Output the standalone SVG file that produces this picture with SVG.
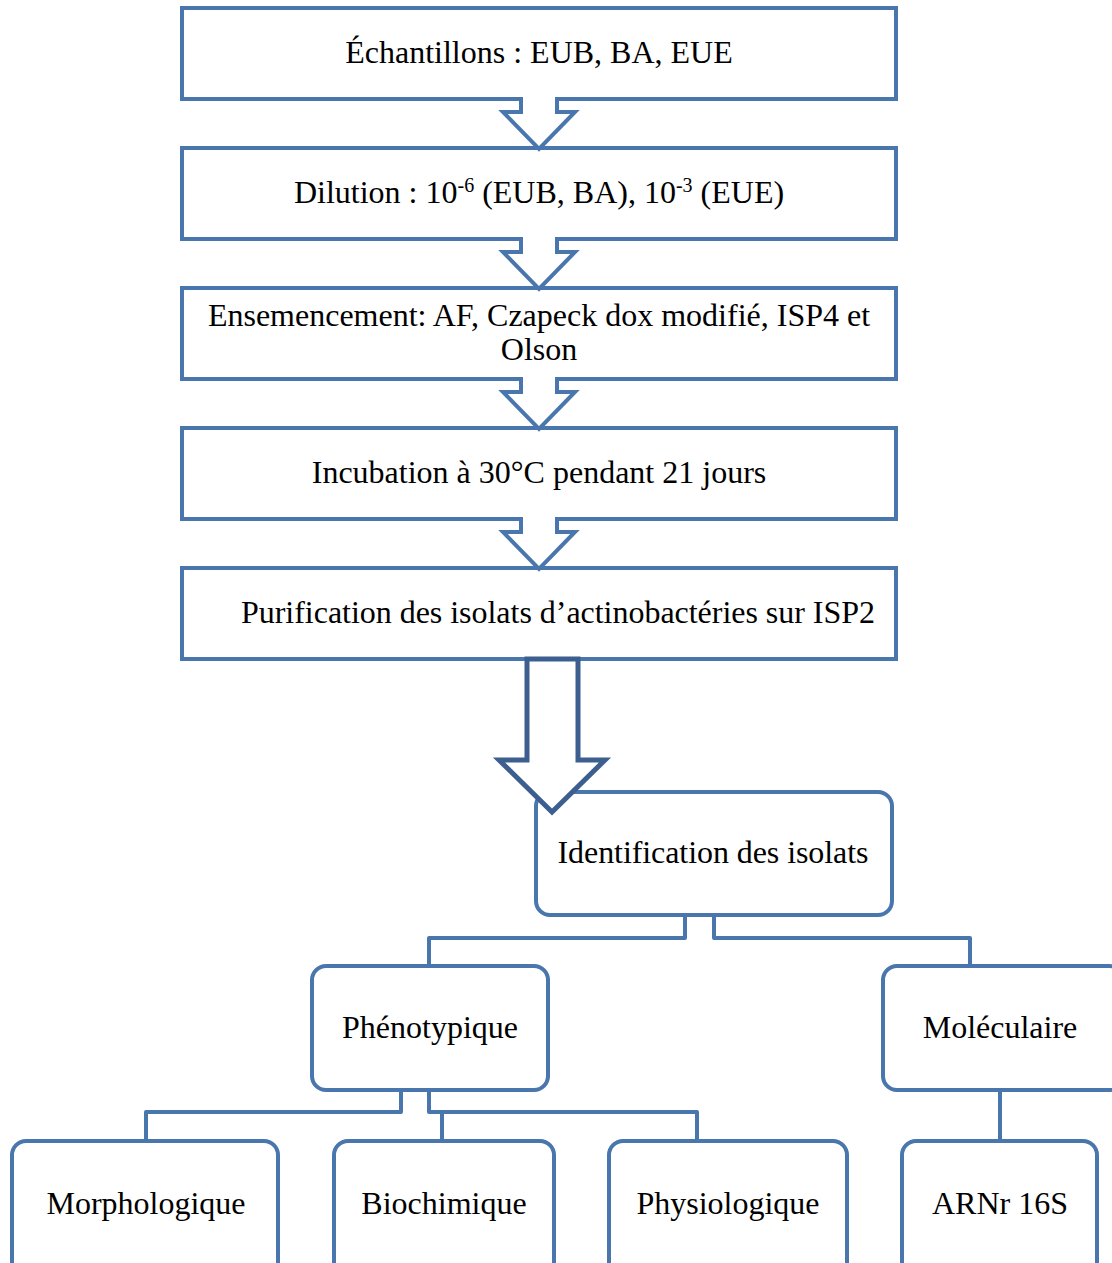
<svg xmlns="http://www.w3.org/2000/svg" width="1112" height="1263" viewBox="0 0 1112 1263">
<style>
.box{fill:#fff;stroke:#4a76ae;stroke-width:4}
.rbox{fill:#fff;stroke:#4a76ae;stroke-width:4}
.arr{fill:#fff;stroke:#4a76ae;stroke-width:4;stroke-linejoin:miter}
.big{fill:#fff;stroke:#3d5f8f;stroke-width:5;stroke-linejoin:miter}
.ln{fill:none;stroke:#4a76ae;stroke-width:4;stroke-linejoin:round}
text{font-family:"Liberation Serif","Times New Roman",serif;font-size:32px;fill:#000;text-anchor:middle}
.sup{font-size:20px}
</style>
<g id="n1"><rect class="box" x="182" y="8" width="714" height="91"/><text x="539" y="63">Échantillons : EUB, BA, EUE</text></g>
<g id="n2"><rect class="box" x="182" y="148" width="714" height="91"/><text x="539" y="203">Dilution : 10<tspan class="sup" dy="-11">-6</tspan><tspan dy="11"> (EUB, BA), 10</tspan><tspan class="sup" dy="-11">-3</tspan><tspan dy="11"> (EUE)</tspan></text></g>
<g id="n3"><rect class="box" x="182" y="288" width="714" height="91"/><text x="539" y="326">Ensemencement: AF, Czapeck dox modifié, ISP4 et</text><text x="539" y="360">Olson</text></g>
<g id="n4"><rect class="box" x="182" y="428" width="714" height="91"/><text x="539" y="483">Incubation à 30°C pendant 21 jours</text></g>
<g id="n5"><rect class="box" x="182" y="568" width="714" height="91"/><text x="558" y="623" textLength="634" lengthAdjust="spacing">Purification des isolats d’actinobactéries sur ISP2</text></g>
<g id="n6"><rect class="rbox" x="536" y="792" width="356" height="123" rx="14"/><text x="713" y="863" textLength="311" lengthAdjust="spacing">Identification des isolats</text></g>
<g id="n7"><rect class="rbox" x="312" y="966" width="236" height="124" rx="14"/><text x="430" y="1038">Phénotypique</text></g>
<g id="n8"><rect class="rbox" x="883" y="966" width="240" height="124" rx="14"/><text x="1000" y="1038">Moléculaire</text></g>
<g id="n9"><rect class="rbox" x="12" y="1141" width="266" height="140" rx="14"/><text x="146" y="1214">Morphologique</text></g>
<g id="n10"><rect class="rbox" x="334" y="1141" width="220" height="140" rx="14"/><text x="444" y="1214">Biochimique</text></g>
<g id="n11"><rect class="rbox" x="609" y="1141" width="238" height="140" rx="14"/><text x="728" y="1214">Physiologique</text></g>
<g id="n12"><rect class="rbox" x="902" y="1141" width="195" height="140" rx="14"/><text x="1000" y="1214">ARNr 16S</text></g>
<g id="connectors">
<path class="arr" d="M521,97 V112 H503 L539,149 L575,112 H557 V97"/>
<path class="arr" d="M521,237 V252 H503 L539,289 L575,252 H557 V237"/>
<path class="arr" d="M521,377 V392 H503 L539,429 L575,392 H557 V377"/>
<path class="arr" d="M521,517 V532 H503 L539,569 L575,532 H557 V517"/>
<path class="big" d="M527,659 V760 H499 L552,812 L605,760 H578 V659 Z"/>
<path class="ln" d="M685,915 V938 H429 V965"/>
<path class="ln" d="M714,915 V938 H970 V965"/>
<path class="ln" d="M401,1090 V1112 H146 V1140"/>
<path class="ln" d="M429,1090 V1112 H697 V1140"/>
<path class="ln" d="M442,1112 V1140"/>
<path class="ln" d="M1000,1090 V1140"/>
</g>
</svg>
